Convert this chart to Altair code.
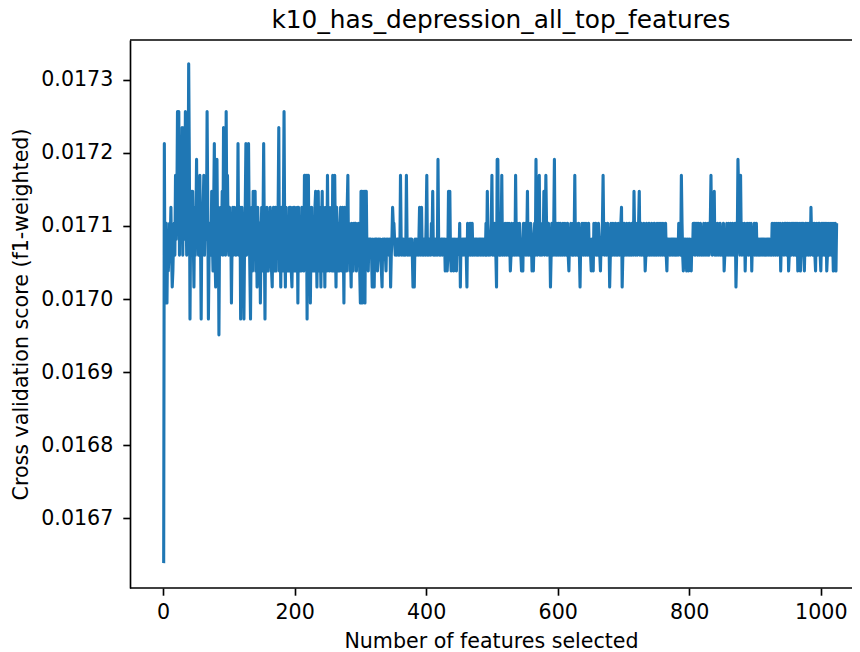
import altair as alt
import pandas as pd

TITLE = "k10_has_depression_all_top_features"
X_LABEL = "Number of features selected"
Y_LABEL = "Cross validation score (f1-weighted)"
X_TICKS = [0, 200, 400, 600, 800, 1000]
Y_TICKS = [0.0167, 0.0168, 0.0169, 0.0170, 0.0171, 0.0172, 0.0173]

# Score at 1 feature
first_score = 0.016639
# The scores sit on a grid of levels:
# score = level_base + level * level_step
level_base = 0.017060
level_step = 0.0000218

levels_002_129 = [
    7, -3, 0, 2, -3, 1, -1, 0, 2, 1,
    3, 0, -2, -1, 1, 2, 0, 5, 1, 3,
    9, 2, 9, 0, 4, 1, 3, 8, 0, 5,
    8, 1, 9, 3, 0, 5, 2, 12, 6, -4,
    2, 4, 0, 4, 1, -2, 3, 0, 2, 6,
    1, 4, 0, 3, 5, 1, -4, 2, 0, 3,
    5, 0, 2, 4, 1, 9, 3, -4, 0, 2,
    2, 0, 4, 1, -1, 3, 7, 0, -2, 4,
    6, 1, 3, -5, 2, 0, 3, 1, 4, 0,
    8, 1, 3, 0, 9, 2, 5, 1, 0, 3,
    0, 2, -3, 1, 3, 0, 3, 1, 2, 0,
    3, 1, 7, 0, 2, 3, -4, 1, 3, 0,
    2, -4, 1, 3, 7, 0, 4, 1,
]
levels_130_257 = [
    7, 2, -1, -4, 1, 3, -1, 4, 1, 3,
    4, -1, 2, -2, 3, 1, -1, 2, -3, 1,
    3, -1, 2, 7, 1, -4, 2, -1, 3, 1,
    -1, 2, 1, 3, 0, -1, -2, 2, 3, -1,
    2, 3, -1, 3, 0, 3, 8, -1, 2, -2,
    3, 1, -1, 3, 9, 1, -2, 3, -1, 2,
    1, -1, 3, 1, 3, -1, -2, 1, 3, -1,
    3, -1, 2, 1, 3, -3, 3, -1, 2, 1,
    -1, 3, 1, 2, -1, 5, 5, 1, 5, -4,
    5, 5, -1, 3, -3, 1, 3, -1, 2, 1,
    -1, 3, 4, 1, -2, 2, 4, -1, 3, 1,
    -2, 2, 4, -1, 3, 1, -2, 2, 3, -1,
    5, 1, 3, -1, 2, 1, 3, -1,
]
levels_258_385 = [
    5, -1, 2, 5, 1, -2, 3, -1, 2, 1,
    -1, 2, 3, 1, -1, 3, 1, -3, 3, 0,
    2, -1, 3, 5, 0, 2, -1, 0, -2, 2,
    1, -1, 2, 1, 2, 2, -1, 1, 0, 2,
    1, -1, -3, 4, 4, -3, 4, 0, 4, -3,
    4, 4, 0, 1, -1, 1, 1, 0, 1, 0,
    -2, 1, 0, -2, 1, 1, 0, 1, -1, 0,
    1, 0, 1, 0, -1, -2, 1, 0, 1, 1,
    0, -1, 1, 0, 1, 0, 0, 1, -2, 0,
    1, 3, 2, 2, 1, 0, 1, 0, 1, 1,
    0, 1, 0, 5, 1, 0, 1, 1, 0, 0,
    1, 0, 5, 1, 0, 1, 0, 1, 1, 0,
    1, 0, -2, 0, -2, 1, 0, 1,
]
levels_386_513 = [
    0, 1, 0, 1, 3, 0, 1, 3, 0, 1,
    0, 1, 1, 0, 2, 5, 0, 1, 0, 1,
    1, 0, 2, 1, 4, 0, 1, 0, 1, 0,
    1, 0, 6, 1, 0, 1, 0, 1, 1, 0,
    1, 0, 1, -1, 0, 1, -1, 0, 4, 1,
    4, 0, -1, 1, 0, 1, -1, 0, 1, 0,
    -1, 1, 0, 1, 0, 2, -2, 1, 0, 1,
    0, 1, 1, 0, 1, 0, -2, 2, 1, 0,
    1, 2, 0, 1, 2, 0, 1, 0, 1, 1,
    0, 1, 0, 1, 0, 1, 1, 0, 1, 0,
    1, 0, 1, 1, 0, 2, 0, 4, 1, 0,
    1, 0, 1, 2, 5, 0, 1, 0, 2, 1,
    0, -2, 6, 6, 1, 0, 2, 0,
]
levels_514_641 = [
    1, 5, 0, 2, 1, 0, 2, 1, 0, 2,
    1, 0, 2, 1, -1, 0, 2, 1, 0, 1,
    2, 0, 5, 1, 0, 2, 1, 0, 2, 1,
    0, -1, 1, -1, 2, 0, 1, 2, 0, 1,
    4, 0, 2, 1, 0, 2, 1, -1, 0, -1,
    1, 2, 0, 6, 1, 0, 2, 1, 5, 0,
    2, 1, 0, 2, 1, 4, 0, 1, 5, 2,
    0, 1, 2, 0, 1, -2, 0, 2, 1, 0,
    2, 6, 0, 1, 2, 0, 1, 2, 0, 1,
    2, 0, 1, 0, 2, 1, 0, 2, 1, 0,
    1, 2, 0, -1, 1, 0, 2, 1, 0, 2,
    0, 1, 5, 0, 2, 1, 0, 1, 2, 0,
    -2, 1, 0, 2, 1, 0, 2, 1,
]
levels_642_769 = [
    0, 2, 1, 0, 1, 2, 0, 1, 0, -1,
    1, 0, -1, 2, 0, 1, 2, 0, 1, 0,
    2, 1, 0, -1, 1, 0, 2, 5, 1, 0,
    2, 1, 0, 1, 2, 0, 1, -2, 0, 2,
    1, 0, 2, 1, 0, 1, 2, 0, 1, 0,
    2, 1, 0, 1, 2, 3, -2, 0, 1, 2,
    0, 1, 0, 2, 1, 0, 1, 2, 0, 1,
    0, 2, 1, 0, 4, 1, 0, 2, 1, 0,
    1, 2, 4, 0, 1, 2, 0, 1, 0, 2,
    1, -1, 0, 2, 1, 0, 1, 2, 0, 1,
    0, 2, 1, 0, 1, 2, 0, 1, 0, 2,
    1, 0, 2, 1, 0, 2, 1, 0, 2, 1,
    0, 1, 2, 0, -1, 1, 0, 1,
]
levels_770_897 = [
    0, 1, 0, 1, 1, 0, 1, 0, 1, 0,
    1, 0, 1, 0, 2, 1, 2, 0, 5, 2,
    0, -1, 0, 1, 0, 1, -1, 0, 1, -1,
    0, 1, 0, -1, 1, 0, 2, 1, 2, 0,
    2, 1, 2, 0, 2, 1, 0, 2, 1, 0,
    1, 0, 2, 1, 0, 2, 1, 0, 1, 2,
    0, 1, 2, 5, 1, 0, 2, 1, 4, 0,
    2, 1, 0, 2, 1, 0, 1, 2, 0, 1,
    0, 1, 2, -1, 0, 1, 0, 2, 1, 0,
    2, 1, 0, 2, 1, 0, 2, 1, 0, 1,
    2, -2, 0, 1, 6, 4, 1, 0, 5, 1,
    0, 2, 1, 0, 2, -1, 1, 0, 2, 1,
    0, 2, 1, 0, 2, -1, 1, 0,
]
levels_898_1024 = [
    1, 2, 0, 1, 2, 0, 1, 0, 1, 0,
    1, 0, 1, 1, 0, 1, 0, 1, 0, 1,
    0, 1, 1, 0, 1, 0, 1, 0, 2, 1,
    0, 2, 1, 0, 2, 1, 0, 2, 1, 0,
    2, -1, 1, 0, 2, 1, 0, 2, 1, 2,
    0, 1, 2, -1, 0, 2, 1, 0, 2, 1,
    2, 0, 1, 2, 0, 1, 2, -1, 0, 2,
    1, -1, 2, 0, 1, 2, 0, -1, 1, 2,
    0, 2, 1, 0, 2, 1, 0, 3, 1, 2,
    0, 1, 2, 0, -1, 2, 1, 0, 2, 1,
    2, 0, -1, 1, 2, 0, 1, 2, 0, 1,
    2, -1, 0, 2, 1, 0, 2, 1, 0, 2,
    1, -1, 2, 0, 2, -1, 2,
]

levels = (levels_002_129 + levels_130_257 + levels_258_385 + levels_386_513
          + levels_514_641 + levels_642_769 + levels_770_897 + levels_898_1024)
scores = [first_score] + [level_base + level_step * k for k in levels]
n_features = list(range(1, len(scores) + 1))

df = pd.DataFrame({"n_features": n_features, "score": scores})
title_df = pd.DataFrame({"label": [TITLE]})

FONT = "DejaVu Sans"
W = 722
H = 548
PX_PER_FEATURE = 0.6578
X_MIN = -50.2
X_MAX = X_MIN + W / PX_PER_FEATURE
Y_MIN = 0.016605
Y_MAX = 0.017354

axis_common = dict(
    labelFont=FONT, labelFontSize=20.6, labelColor="black",
    titleFont=FONT, titleFontSize=20.6, titleFontWeight="normal", titleColor="black",
    tickColor="black", tickSize=7.2, tickWidth=1.65,
    domainColor="black", domainWidth=1.65, grid=False,
)

line = alt.Chart(df).mark_line(color="#1f77b4", strokeWidth=3.1, strokeJoin="round").encode(
    x=alt.X("n_features:Q",
            scale=alt.Scale(domain=[X_MIN, X_MAX], nice=False, zero=False),
            axis=alt.Axis(title=X_LABEL, values=X_TICKS, format="d", domain=False,
                          labelPadding=7.2, titlePadding=8, **axis_common)),
    y=alt.Y("score:Q",
            scale=alt.Scale(domain=[Y_MIN, Y_MAX], nice=False, zero=False),
            axis=alt.Axis(title=Y_LABEL, values=Y_TICKS, format=".4f",
                          labelPadding=10, titlePadding=9, **axis_common)),
)

frame_top = alt.Chart(df.head(1)).mark_rule(color="black", strokeWidth=1.65).encode(
    x=alt.value(0), x2=alt.value(W + 14), y=alt.value(0))
frame_bottom = alt.Chart(df.head(1)).mark_rule(color="black", strokeWidth=1.65).encode(
    x=alt.value(0), x2=alt.value(W + 14), y=alt.value(H))

title_text = alt.Chart(title_df).mark_text(
    font=FONT, fontSize=24.8, color="black", align="center", baseline="alphabetic"
).encode(x=alt.value(W / 2 + 10), y=alt.value(-12.4), text="label:N")

chart = alt.layer(line, frame_top, frame_bottom, title_text).properties(
    width=W, height=H,
    autosize=alt.AutoSizeParams(type="none"),
    padding={"left": 122, "top": 32, "right": 0, "bottom": 64},
).configure_view(stroke="transparent")

chart.save("out.html", embed_options={"renderer": "svg", "actions": False})
